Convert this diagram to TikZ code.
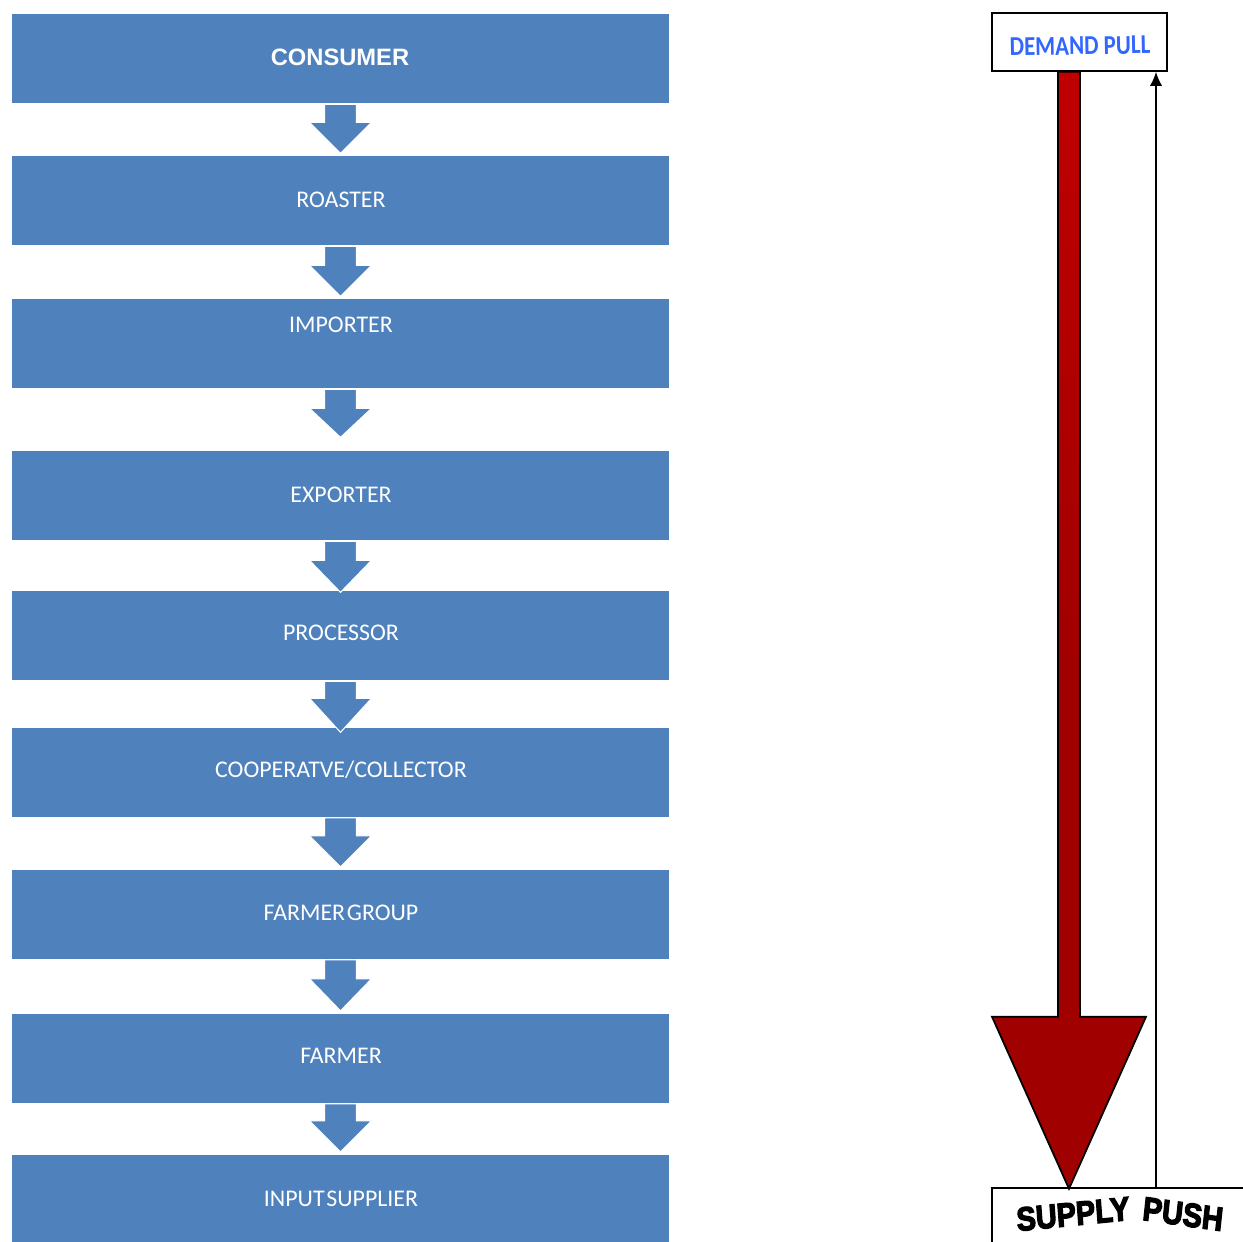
\documentclass[tikz,border=0pt]{standalone}
\usepackage{fontspec}
\setmainfont{Carlito}
\newfontfamily\arialfont{Liberation Sans}
\newfontfamily\dpfont[FakeStretch=0.84]{Carlito}
\newfontfamily\spfont[FakeBold=4]{Liberation Sans Bold}
\usetikzlibrary{arrows.meta,calc}
\definecolor{boxblue}{HTML}{4F81BD}
\definecolor{dpblue}{HTML}{3366FF}
\definecolor{redtop}{HTML}{C00000}
\definecolor{redbot}{HTML}{A00000}
\tikzset{
  chainbox/.style={fill=boxblue,draw=none,rectangle,minimum width=13.14cm,minimum height=1.78cm,inner sep=0pt},
  chaintext/.style={text=white,font=\fontsize{13.6}{15}\selectfont,inner sep=0pt},
  blockarrow/.style={fill=boxblue,draw=white,line width=0.6pt,line join=miter},
  outlinebox/.style={draw=black,line width=1pt,fill=white,rectangle,inner sep=0pt},
  sptext/.style={font=\spfont\fontsize{16.5}{18}\selectfont,inner sep=0pt,yscale=1.15,transform shape}
}
\begin{document}
\begin{tikzpicture}[x=0.02cm,y=-0.02cm]
\useasboundingbox (0,0) rectangle (1243,1241);
\clip (0,0) rectangle (1243,1241);
% boxes
\node[chainbox] (b1) at (340.5,58.5) {};
\node[chainbox] (b2) at (340.5,200.5) {};
\node[chainbox] (b3) at (340.5,343.5) {};
\node[chainbox] (b4) at (340.5,495.5) {};
\node[chainbox] (b5) at (340.5,635.5) {};
\node[chainbox] (b6) at (340.5,772) {};
\node[chainbox] (b7) at (340.5,914) {};
\node[chainbox] (b8) at (340.5,1058) {};
\node[chainbox] (b9) at (340.5,1199.5) {};
% texts
\node[chaintext,font=\arialfont\bfseries\fontsize{13.5}{15}\selectfont] (t1) at (340,57) {CONSUMER};
\node[chaintext] (t2) at (341,200) {ROASTER};
\node[chaintext] (t3) at (341,325) {IMPORTER};
\node[chaintext] (t4) at (341,495) {EXPORTER};
\node[chaintext] (t5) at (341,633) {PROCESSOR};
\node[chaintext] (t6) at (341,770) {COOPERATVE/COLLECTOR};
\node[chaintext] (t7) at (341,913) {FARMER\kern1pt GROUP};
\node[chaintext] (t8) at (341,1056) {FARMER};
\node[chaintext] (t9) at (341,1199) {INPUT\kern1pt SUPPLIER};
% block arrows: (from, shaft length, head length)
\foreach \f/\L/\H in {b1/18/31, b2/19/31, b3/19/29, b4/19/32, b5/17/34, b6/18/31, b7/19/32, b8/17/31}{
  \draw[blockarrow] (\f.south) ++(-16,1) -- ++(0,\L) -- ++(-15,0) -- ++(31,\H) -- ++(31,-\H) -- ++(-15,0) -- ++(0,-\L) -- cycle;
}
% demand pull / supply push
\node[outlinebox,minimum width=3.5cm,minimum height=1.16cm,anchor=north west] (dp) at (991,12) {};
\node[text=dpblue,font=\dpfont\bfseries\fontsize{15.5}{17}\selectfont,inner sep=0pt,rotate=1] (dpt) at (1080,46) {DEMAND PULL};
\node[outlinebox,minimum width=5.6cm,minimum height=1.6cm,anchor=north west] (sp) at (991,1187) {};
\node[sptext,rotate=5] (spt1) at (1073,1214) {SUPPLY};
\node[sptext,rotate=-7] (spt2) at (1183,1214) {PUSH};
% red arrow
\path[draw=black,line width=1pt,top color=redtop,bottom color=redbot,middle color=redbot!95!redtop]
  ($(dp.south west)+(67,0)$) -- ++(0,945) -- ++(-66,0) -- ++(77,172) -- ++(77,-172) -- ++(-66,0) -- ++(0,-945) -- cycle;
% thin return line
\draw[line width=1pt,-{Latex[length=8pt,width=7pt]}] ($(sp.north west)+(165,0)$) -- ($(dp.south west)+(165,0)$);
\end{tikzpicture}
\end{document}
